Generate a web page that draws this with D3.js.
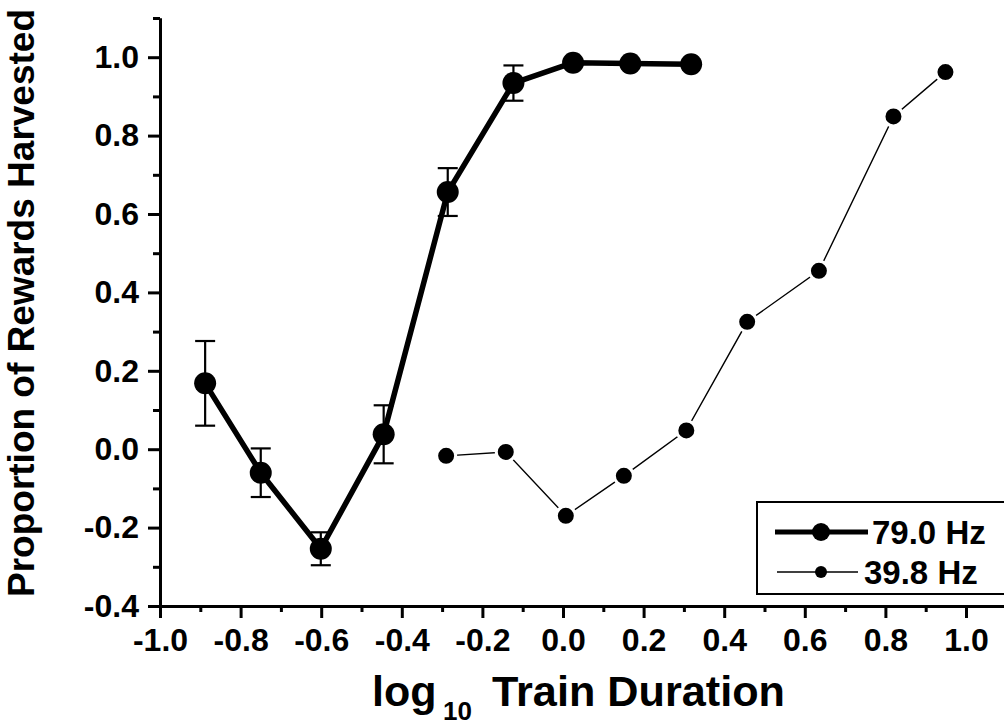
<!DOCTYPE html>
<html>
<head>
<meta charset="utf-8">
<script src="https://cdn.jsdelivr.net/npm/d3@7"></script>
<style>
  body { margin: 0; background: #fff; }
  svg { display: block; font-family: "Liberation Sans", Arial, Helvetica, sans-serif; font-weight: bold; }
</style>
</head>
<body>
<svg id="chart" width="1004" height="725"></svg>
<script>
// Series labels
const seriesNames = ["79.0 Hz", "39.8 Hz"];

// 79.0 Hz: log10 train duration, proportion harvested, SEM
const durHigh  = [-0.888, -0.750, -0.601, -0.445, -0.286, -0.123, 0.025, 0.167, 0.318];
const propHigh = [0.168, -0.060, -0.254, 0.038, 0.656, 0.934, 0.986, 0.984, 0.982];
const errHigh  = [0.108, 0.062, 0.042, 0.074, 0.061, 0.045, null, null, null];

// 39.8 Hz: log10 train duration, proportion harvested
const durLow  = [-0.290, -0.142, 0.007, 0.151, 0.306, 0.457, 0.635, 0.820, 0.949];
const propLow = [-0.017, -0.007, -0.170, -0.068, 0.048, 0.325, 0.455, 0.849, 0.962];

// Axis ticks
const xTicks = [-1.0, -0.8, -0.6, -0.4, -0.2, 0.0, 0.2, 0.4, 0.6, 0.8, 1.0];
const xTickLabels = ["-1.0", "-0.8", "-0.6", "-0.4", "-0.2", "0.0", "0.2", "0.4", "0.6", "0.8", "1.0"];
const xMinor = [-0.9, -0.7, -0.5, -0.3, -0.1, 0.1, 0.3, 0.5, 0.7, 0.9];
const yTicks = [-0.4, -0.2, 0.0, 0.2, 0.4, 0.6, 0.8, 1.0];
const yTickLabels = ["-0.4", "-0.2", "0.0", "0.2", "0.4", "0.6", "0.8", "1.0"];
const yMinor = [-0.3, -0.1, 0.1, 0.3, 0.5, 0.7, 0.9, 1.1];

const svg = d3.select("#chart");

const x = d3.scaleLinear().domain([-1.0, 1.1]).range([160, 160 + 2.1 * 403]);
const y = d3.scaleLinear().domain([-0.4, 1.1]).range([606, 18]);

const high = durHigh.map((d, i) => ({ x: d, y: propHigh[i], e: errHigh[i] }));
const low  = durLow.map((d, i) => ({ x: d, y: propLow[i] }));

// ---- axes ----
function styleAxis(g) {
  g.select(".domain").attr("stroke", "#000").attr("stroke-width", 3);
  g.selectAll(".tick line").attr("stroke", "#000").attr("stroke-width", 3);
  g.selectAll(".tick text").attr("fill", "#000").attr("font-size", 32).attr("font-family", null);
}

const xAxisG = svg.append("g").attr("transform", `translate(0,${y(-0.4)})`);
xAxisG.call(d3.axisBottom(x).tickValues(xTicks).tickSize(12).tickSizeOuter(0).tickPadding(10)
  .tickFormat((d, i) => xTickLabels[i]));
styleAxis(xAxisG);
const xMinorG = svg.append("g").attr("transform", `translate(0,${y(-0.4)})`);
xMinorG.call(d3.axisBottom(x).tickValues(xMinor).tickSize(6).tickSizeOuter(0).tickFormat(""));
styleAxis(xMinorG);

const yAxisG = svg.append("g").attr("transform", `translate(${x(-1.0)},0)`);
yAxisG.call(d3.axisLeft(y).tickValues(yTicks).tickSize(12).tickSizeOuter(0).tickPadding(9)
  .tickFormat((d, i) => yTickLabels[i]));
styleAxis(yAxisG);
const yMinorG = svg.append("g").attr("transform", `translate(${x(-1.0)},0)`);
yMinorG.call(d3.axisLeft(y).tickValues(yMinor).tickSize(7).tickSizeOuter(0).tickFormat(""));
styleAxis(yMinorG);

// ---- axis titles ----
svg.append("text")
  .attr("transform", "translate(34,303) rotate(-90)")
  .attr("text-anchor", "middle")
  .attr("font-size", 37)
  .text("Proportion of Rewards Harvested");

svg.append("text").attr("x", 372).attr("y", 706).attr("font-size", 43).text("log");
svg.append("text").attr("x", 443).attr("y", 720).attr("font-size", 26).text("10");
svg.append("text").attr("x", 492).attr("y", 706).attr("font-size", 43)
  .attr("textLength", 293).attr("lengthAdjust", "spacingAndGlyphs").text("Train Duration");

// ---- 79.0 Hz error bars ----
const eb = svg.append("g").attr("stroke", "#000").attr("stroke-width", 2.2);
high.filter(d => d.e != null).forEach(d => {
  const cx = x(d.x), top = y(d.y + d.e), bot = y(d.y - d.e);
  eb.append("line").attr("x1", cx).attr("x2", cx).attr("y1", top).attr("y2", bot);
  eb.append("line").attr("x1", cx - 10).attr("x2", cx + 10).attr("y1", top).attr("y2", top);
  eb.append("line").attr("x1", cx - 10).attr("x2", cx + 10).attr("y1", bot).attr("y2", bot);
});

const line = d3.line().x(d => x(d.x)).y(d => y(d.y));

// ---- 39.8 Hz series ----
svg.append("path").datum(low)
  .attr("d", line).attr("fill", "none").attr("stroke", "#000").attr("stroke-width", 1.4);
svg.append("g").selectAll("circle").data(low).join("circle")
  .attr("cx", d => x(d.x)).attr("cy", d => y(d.y)).attr("r", 9.5)
  .attr("fill", "#000").attr("stroke", "#fff").attr("stroke-width", 3);

// ---- 79.0 Hz series ----
svg.append("path").datum(high)
  .attr("d", line).attr("fill", "none").attr("stroke", "#000")
  .attr("stroke-width", 5.5).attr("stroke-linejoin", "round");
svg.append("g").selectAll("circle").data(high).join("circle")
  .attr("cx", d => x(d.x)).attr("cy", d => y(d.y)).attr("r", 11).attr("fill", "#000");

// ---- legend ----
const legend = svg.append("g");
legend.append("rect").attr("x", 757).attr("y", 502).attr("width", 260).attr("height", 92)
  .attr("fill", "#fff").attr("stroke", "#000").attr("stroke-width", 2);
const legendStyle = [
  { lw: 5, r: 9, x1: 775, x2: 868, tx: 872 },
  { lw: 1.4, r: 6, x1: 777, x2: 858, tx: 864 }
];
seriesNames.forEach((name, i) => {
  const s = legendStyle[i], cy = 532 + i * 40;
  legend.append("line").attr("x1", s.x1).attr("x2", s.x2).attr("y1", cy).attr("y2", cy)
    .attr("stroke", "#000").attr("stroke-width", s.lw);
  legend.append("circle").attr("cx", 821).attr("cy", cy).attr("r", s.r).attr("fill", "#000");
  legend.append("text").attr("x", s.tx).attr("y", cy + 12).attr("font-size", 33).text(name);
});
</script>
</body>
</html>
